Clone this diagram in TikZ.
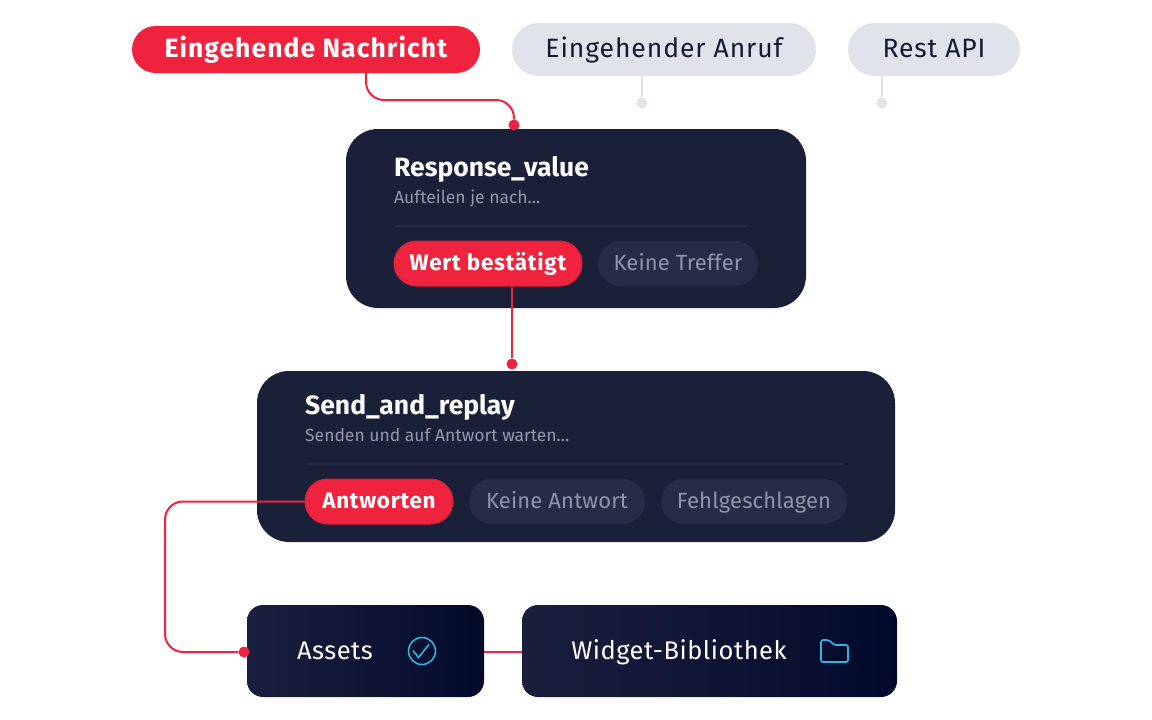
\documentclass[tikz,border=0pt]{standalone}
\usepackage{fontspec}
\setmainfont{Fira Sans}
\definecolor{alertred}{HTML}{F0233E}
\definecolor{alertdark}{HTML}{D8203F}
\definecolor{softgrey}{HTML}{E0E3E9}
\definecolor{inkdark}{HTML}{1A2037}
\definecolor{inktext}{HTML}{141A33}
\definecolor{chipdark}{HTML}{262C45}
\definecolor{chiptext}{HTML}{8F94A8}
\definecolor{subtext}{HTML}{9498AA}
\definecolor{rulecol}{HTML}{262C44}
\definecolor{iconblue}{HTML}{2FB5E6}
\definecolor{boxleft}{HTML}{1B1F3E}
\definecolor{boxright}{HTML}{020A2B}
\tikzset{
  toppill/.style={inner sep=0pt,text depth=4pt,text height=20pt,font=\fontsize{26.5}{30}\selectfont\addfontfeatures{LetterSpace=3.5}},
  card/.style={fill=inkdark,rounded corners=32pt,inner sep=0pt},
  chip/.style={fill=chipdark,text=chiptext,rounded corners=22.5pt,minimum height=45pt,inner sep=0pt,text depth=5pt,text height=18pt,font=\fontsize{22}{25}\selectfont\addfontfeatures{LetterSpace=.7}},
  redchip/.style={chip,fill=alertred,draw=alertdark,line width=1pt,text=white,font=\fontsize{22.5}{25}\selectfont\bfseries\addfontfeatures{LetterSpace=3.2}},
  title/.style={anchor=base west,inner sep=0pt,text=white,font=\fontsize{26.5}{28}\selectfont\bfseries},
  subtitle/.style={anchor=base west,inner sep=0pt,text=subtext,font=\fontsize{17.5}{20}\selectfont},
  widgetbox/.style={left color=boxleft,right color=boxright,rounded corners=16pt,minimum height=92pt,inner sep=0pt},
  boxlabel/.style={anchor=base,inner sep=0pt,text=white,font=\fontsize{25.5}{30}\selectfont\addfontfeatures{LetterSpace=2}},
  reddot/.style={circle,fill=alertred,minimum size=11pt,inner sep=0pt},
  greydot/.style={circle,fill=softgrey,minimum size=11pt,inner sep=0pt},
  redline/.style={alertred,line width=2pt,rounded corners=18pt},
  greyline/.style={softgrey,line width=2pt},
  cardrule/.style={rulecol,line width=1.2pt},
  icon/.style={iconblue,line width=1.6pt},
}
\begin{document}
\begin{tikzpicture}[x=1pt,y=-1pt]
   \useasboundingbox (0,0) rectangle (1152,720);
   % top row
   \node (message) [toppill,fill=alertred,text=white,rounded corners=23.5pt,minimum width=348pt,minimum height=47pt,font=\fontsize{26.5}{30}\selectfont\bfseries\addfontfeatures{LetterSpace=4}] at (306,49.5) {Eingehende Nachricht};
   \node (call) [toppill,fill=softgrey,text=inktext,rounded corners=26.5pt,minimum width=304pt,minimum height=53pt] at (664,49.5) {Eingehender Anruf};
   \node (rest) [toppill,fill=softgrey,text=inktext,rounded corners=26.5pt,minimum width=172pt,minimum height=53pt] at (934,49.5) {Rest API};
   \node (calldot) [greydot] at (642,103) {};
   \node (restdot) [greydot] at (882,103) {};

   % first card
   \node (response) [card,minimum width=460pt,minimum height=179pt] at (576,218.5) {};
   \node (responsetitle) [title] at (394,176) {Response\_value};
   \node (responsesub) [subtitle] at (394,203) {Aufteilen je nach...};
   \node (confirmed) [redchip,minimum width=188pt] at (488,263.5) {Wert bestätigt};
   \node (nomatch) [chip,minimum width=160pt] at (678,263.5) {Keine Treffer};
   \coordinate (responseruleA) at (394,226);
   \coordinate (responseruleB) at (746,226);

   % second card
   \node (send) [card,minimum width=638pt,minimum height=171pt] at (576,456.5) {};
   \node (sendtitle) [title] at (305,414) {Send\_and\_replay};
   \node (sendsub) [subtitle] at (305,441) {Senden und auf Antwort warten...};
   \node (answer) [redchip,minimum width=148pt] at (379,501.5) {Antworten};
   \node (noanswer) [chip,minimum width=176pt] at (557,501.5) {Keine Antwort};
   \node (failed) [chip,minimum width=186pt] at (754,501.5) {Fehlgeschlagen};
   \coordinate (sendruleA) at (305,464);
   \coordinate (sendruleB) at (844,464);

   % bottom row
   \node (assets) [widgetbox,minimum width=237pt] at (365.5,651) {};
   \node (library) [widgetbox,minimum width=375pt] at (709.5,651) {};
   \node (assetslabel) [boxlabel] at (335,659.5) {Assets};
   \node (librarylabel) [boxlabel] at (679,659.5) {Widget-Bibliothek};
   \node (check) [circle,draw=iconblue,line width=1.6pt,minimum size=27pt,inner sep=0pt] at (422,651) {};
   \draw [icon] (413,650.5) -- (418.5,657.5) -- (429,644.5);
   \draw [icon,line join=round,rounded corners=2pt] (821,640) -- (829,640) -- (834,645) -- (848,645) -- (848,662) -- (821,662) -- cycle;

   % connectors
   \node (msgdot) [reddot] at (514,125) {};
   \node (senddot) [reddot] at (512,364) {};
   \node (assetsdot) [reddot] at (244,652) {};
   \coordinate (msgout) at (366,73);
   \coordinate (msgbend) at (366,100);
   \coordinate (answerbend) at (165,501.5);

   \draw [cardrule] (responseruleA) -- (responseruleB) ;
   \draw [cardrule] (sendruleA) -- (sendruleB) ;
   \draw [greyline] (calldot) -- (calldot |- call.south) ;
   \draw [greyline] (restdot) -- (restdot |- rest.south) ;
   \draw [redline] (msgout) -- (msgbend) -- (msgbend -| msgdot) -- (msgdot) ;
   \draw [redline,rounded corners=0pt] (senddot |- confirmed.south) -- (senddot) ;
   \draw [redline] (answer.west) -- (answerbend) -- (answerbend |- assetsdot) -- (assetsdot) ;
   \draw [redline,rounded corners=0pt] (assets.east |- assetsdot) -- (library.west |- assetsdot) ;
\end{tikzpicture}
\end{document}
